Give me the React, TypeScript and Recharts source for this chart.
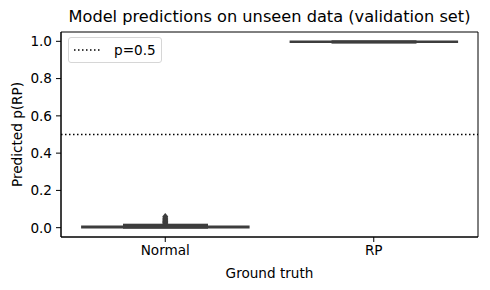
import React from "react";
import { ComposedChart, Bar, Scatter, XAxis, YAxis, ReferenceLine, ReferenceArea, Legend } from "recharts";

const categories = ["Normal", "RP"];
const boxLow = [0.0, 0.995];
const boxHigh = [0.008, 1.0];
const whiskerLow = [0.0, 0.993];
const whiskerHigh = [0.016, 1.0];
const flierValues = [0.024, 0.028, 0.032, 0.036, 0.041, 0.046, 0.052, 0.06];
const flierCategory = "Normal";
const threshold = 0.5;
const thresholdLabel = "p=0.5";
const yTicks = [0, 0.2, 0.4, 0.6, 0.8, 1.0];
const yDomain = [-0.05, 1.05];

const data = categories.map((cat, i) => ({
  cat,
  box: [boxLow[i], boxHigh[i]],
  whisker: [whiskerLow[i], whiskerHigh[i]],
}));
const fliers = flierValues.map((v) => ({ cat: flierCategory, v }));

const FONT = "'DejaVu Sans', sans-serif";
const BOX = "#3d3d3d";

const WhiskerShape = (props: any) => {
  const { x, y, width, height } = props;
  // caps sit so close together that matplotlib merges them into one slab
  return <rect x={x} y={y - 1} width={width} height={height + 2} fill={BOX} />;
};

const Diamond = (props: any) => {
  const { cx, cy } = props;
  return <path d={`M${cx},${cy - 3.5} L${cx + 3},${cy} L${cx},${cy + 3.5} L${cx - 3},${cy} Z`} fill={BOX} />;
};

const LegendBox = () => (
  <div
    style={{
      width: 92,
      height: 24,
      border: "1px solid #d6d6d6",
      borderRadius: 3,
      background: "rgba(255,255,255,0.8)",
      display: "flex",
      alignItems: "center",
      fontFamily: FONT,
      fontSize: 13.6,
      color: "#000",
    }}
  >
    <svg width={40} height={10} style={{ marginLeft: 4 }}>
      <line x1={1} x2={29} y1={5} y2={5} stroke="#000" strokeWidth={1.5} strokeDasharray="1.5 2.5" />
    </svg>
    <span style={{ marginLeft: 1 }}>{thresholdLabel}</span>
  </div>
);

export default function App(): JSX.Element {
  return (
    <div style={{ position: "absolute", left: 0, top: 0, width: 490, height: 290, background: "#fff" }}>
      <div
        style={{
          position: "absolute",
          left: 61,
          width: 417,
          top: 7,
          textAlign: "center",
          fontFamily: FONT,
          fontSize: 16.2,
          color: "#000",
        }}
      >
        Model predictions on unseen data (validation set)
      </div>
      <ComposedChart
        width={490}
        height={290}
        data={data}
        margin={{ top: 32, right: 12, bottom: 0, left: 0 }}
        barCategoryGap="10%"
        style={{ fontFamily: FONT }}
      >
        <XAxis
          dataKey="cat"
          allowDuplicatedCategory={false}
          height={53}
          tick={{ fontSize: 13.6, fill: "#000" }}
          tickSize={5}
          tickMargin={3}
          stroke="#000"
          label={{ value: "Ground truth", position: "insideBottom", offset: 12, fontSize: 13.6, fill: "#000" }}
        />
        <XAxis xAxisId="w" dataKey="cat" allowDuplicatedCategory={false} hide />
        <YAxis
          domain={yDomain}
          ticks={yTicks}
          tickFormatter={(v: number) => v.toFixed(1)}
          width={61}
          tick={{ fontSize: 13.6, fill: "#000" }}
          tickSize={5}
          tickMargin={4}
          stroke="#000"
          label={{ value: "Predicted p(RP)", angle: -90, position: "insideLeft", offset: 17, fontSize: 13.6, fill: "#000", style: { textAnchor: "middle" } }}
        />
        <ReferenceArea y1={yDomain[0]} y2={yDomain[1]} fill="none" stroke="#000" strokeWidth={1} />
        <ReferenceLine y={threshold} stroke="#000" strokeWidth={1.5} strokeDasharray="1.5 2.5" />
        <Bar xAxisId="w" dataKey="whisker" barSize={85} shape={<WhiskerShape />} isAnimationActive={false} />
        <Bar dataKey="box" fill={BOX} stroke={BOX} strokeWidth={1.5} isAnimationActive={false} />
        <Scatter data={fliers} dataKey="v" shape={<Diamond />} isAnimationActive={false} />
        <Legend
          layout="horizontal"
          verticalAlign="middle"
          align="center"
          content={<LegendBox />}
          wrapperStyle={{ top: 37, left: 68, width: "auto" }}
        />
      </ComposedChart>
    </div>
  );
}
